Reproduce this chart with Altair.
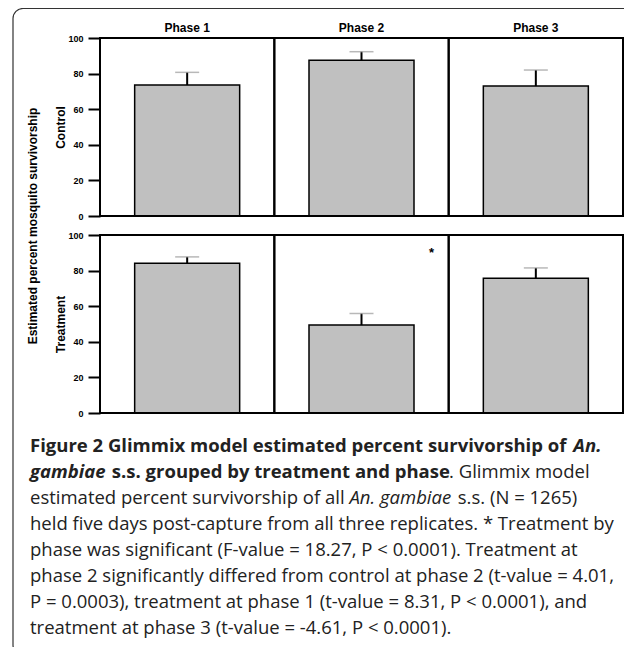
import altair as alt
import pandas as pd

# ---------------- data ----------------
phases = ["Phase 1", "Phase 2", "Phase 3"]
control_mean = [73.6, 87.5, 73.0]
control_upper = [80.7, 92.3, 82.0]
treatment_mean = [84.1, 49.4, 75.7]
treatment_upper = [87.7, 55.9, 81.5]
y_ticks = [0, 20, 40, 60, 80, 100]
sig_phase = ["Phase 2"]
sig_value = [90]
row_titles = ["Control", "Treatment"]
y_title = "Estimated percent mosquito survivorship"

# caption text: one list of (text, weight, style) runs per line
caption_lines = [
    [("Figure 2 Glimmix model estimated percent survivorship of ", "bold", "normal"),
     ("An.", "bold", "italic")],
    [("gambiae", "bold", "italic"),
     (" s.s. grouped by treatment and phase", "bold", "normal"),
     (". Glimmix model", "normal", "normal")],
    [("estimated percent survivorship of all ", "normal", "normal"),
     ("An. gambiae", "normal", "italic"),
     (" s.s. (N = 1265)", "normal", "normal")],
    [("held five days post-capture from all three replicates. * Treatment by", "normal", "normal")],
    [("phase was significant (F-value = 18.27, P < 0.0001). Treatment at", "normal", "normal")],
    [("phase 2 significantly differed from control at phase 2 (t-value = 4.01,", "normal", "normal")],
    [("P = 0.0003), treatment at phase 1 (t-value = 8.31, P < 0.0001), and", "normal", "normal")],
    [("treatment at phase 3 (t-value = -4.61, P < 0.0001).", "normal", "normal")],
]

# ---------------- layout (pixels) ----------------
W = 523
ROW_H = 178
GAP = 19
H = 2 * ROW_H + GAP
ctrl_range = [ROW_H, 0]
trt_range = [H, ROW_H + GAP]
VIEW_X0, VIEW_Y0 = 100, 38
CAP_X0 = 30
CAP_BASE0 = 452
CAP_STEP = 26

AX_FONT = "Liberation Sans"
CAP_FONT = "Open Sans"
CAP_SIZE = 18.5

# approximate Open Sans advance widths (1/2048 em), used only to place
# consecutive runs of differently styled caption text side by side
_REG = {" ": 532, "a": 1139, "b": 1255, "c": 975, "d": 1255, "e": 1149, "f": 694,
        "g": 1122, "h": 1257, "i": 518, "l": 518, "m": 1905, "n": 1257, "o": 1237,
        "p": 1255, "r": 836, "s": 977, "t": 723, "u": 1257, "v": 1026, "x": 1073,
        "y": 1028, ".": 545, "G": 1450}
_BOLD = {" ": 532, "a": 1240, "b": 1300, "c": 1051, "d": 1300, "e": 1240, "f": 797,
         "g": 1141, "h": 1360, "i": 655, "l": 623, "m": 2007, "n": 1339, "o": 1264,
         "p": 1300, "r": 895, "s": 1014, "t": 840, "u": 1339, "v": 1200, "x": 1230,
         "y": 1178, ".": 586, "F": 1180, "G": 1530, "2": 1171}
_ITAL = {" ": 532, "A": 1180, "n": 1220, ".": 500, "g": 1060, "a": 1180, "m": 1820,
         "b": 1200, "i": 537, "e": 1050}
_BOLDITAL = {" ": 532, "A": 1300, "n": 1339, ".": 586, "g": 1141, "a": 1217,
             "m": 1960, "b": 1260, "i": 602, "e": 1130}


def run_width(txt, weight, style):
    table = {("normal", "normal"): _REG, ("bold", "normal"): _BOLD,
             ("normal", "italic"): _ITAL, ("bold", "italic"): _BOLDITAL}[(weight, style)]
    return sum(table.get(ch, 1150) for ch in txt) / 2048 * CAP_SIZE


ctrl = pd.DataFrame({"phase": phases, "mean": control_mean, "upper": control_upper})
trt = pd.DataFrame({"phase": phases, "mean": treatment_mean, "upper": treatment_upper})
cells = pd.DataFrame({"phase": phases, "lo": [y_ticks[0]] * 3, "hi": [y_ticks[-1]] * 3})
sig = pd.DataFrame({"phase": sig_phase, "value": sig_value})

x_enc = alt.X(
    "phase:N",
    sort=phases,
    scale=alt.Scale(domain=phases, paddingInner=0, paddingOuter=0),
    axis=alt.Axis(
        orient="top", title=None, ticks=False, tickSize=0, domain=False, grid=False,
        labelAngle=0, labelFont=AX_FONT, labelFontSize=12, labelFontWeight="bold",
        labelColor="black", labelPadding=4,
    ),
)


def y_axis(title, title_y):
    return alt.Axis(
        orient="left", values=y_ticks, tickSize=12, tickWidth=2, tickColor="black",
        domain=False, grid=False, labelFont=AX_FONT, labelFontSize=9,
        labelFontWeight="bold", labelColor="black", labelPadding=5,
        title=title, titleFont=AX_FONT, titleFontSize=12, titleFontWeight="bold",
        titleColor="black", titleX=-40, titleY=title_y, titleAngle=270,
        titleAlign="center", titleBaseline="middle",
    )


def row_layers(df, rng, title, title_y):
    sc = alt.Scale(domain=[y_ticks[0], y_ticks[-1]], range=rng, nice=False)
    bars = alt.Chart(df).mark_bar(size=105, fill="#c0c0c0", stroke="black", strokeWidth=1.5).encode(
        x=x_enc, y=alt.Y("mean:Q", scale=sc, axis=y_axis(title, title_y))
    )
    err = alt.Chart(df).mark_rule(color="black", strokeWidth=2).encode(
        x=x_enc, y=alt.Y("mean:Q", scale=sc, axis=None), y2="upper:Q"
    )
    cap = alt.Chart(df).mark_tick(size=24, thickness=1.5, color="#9a9a9a").encode(
        x=x_enc, y=alt.Y("upper:Q", scale=sc, axis=None)
    )
    frame = alt.Chart(cells).mark_rect(fillOpacity=0, stroke="black", strokeWidth=2).encode(
        x=x_enc, y=alt.Y("lo:Q", scale=sc, axis=None), y2="hi:Q"
    )
    return [bars, err, cap, frame], sc


ctrl_layers, _ = row_layers(ctrl, ctrl_range, row_titles[0], ROW_H / 2)
trt_layers, trt_sc = row_layers(trt, trt_range, row_titles[1], ROW_H + GAP + ROW_H / 2)

star = alt.Chart(sig).mark_text(
    text="*", dx=70, fontSize=13, fontWeight="bold", font=AX_FONT, color="black", baseline="middle"
).encode(x=x_enc, y=alt.Y("value:Q", scale=trt_sc, axis=None))

blank = alt.Data(values=[{}])
ytitle = alt.Chart(blank).mark_text(
    angle=270, font=AX_FONT, fontSize=12, fontWeight="bold", color="black",
    align="center", baseline="middle",
).encode(x=alt.value(33 - VIEW_X0), y=alt.value(226 - VIEW_Y0), text=alt.value(y_title))

caption = []
for li, runs in enumerate(caption_lines):
    px = CAP_X0
    for txt, weight, style in runs:
        shown = txt.strip()
        lead = txt[: len(txt) - len(txt.lstrip())]
        caption.append(
            alt.Chart(blank).mark_text(
                font=CAP_FONT, fontSize=CAP_SIZE, fontWeight=weight, fontStyle=style,
                color="#222222", align="left", baseline="alphabetic",
            ).encode(
                x=alt.value(px + run_width(lead, weight, style) - VIEW_X0),
                y=alt.value(CAP_BASE0 + li * CAP_STEP - VIEW_Y0),
                text=alt.value(shown),
            )
        )
        px += run_width(txt, weight, style)

outer = alt.Chart(blank).mark_rect(
    fillOpacity=0, stroke="#333333", strokeWidth=1.2, cornerRadius=10
).encode(
    x=alt.value(13 - VIEW_X0), x2=alt.value(636 - VIEW_X0),
    y=alt.value(8.5 - VIEW_Y0), y2=alt.value(655 - VIEW_Y0),
)

chart = alt.layer(
    outer, *ctrl_layers, *trt_layers, star, ytitle, *caption
).resolve_scale(y="independent").properties(
    width=W, height=H,
    autosize=alt.AutoSizeParams(type="none"),
    padding={"left": VIEW_X0 - 8, "top": VIEW_Y0 - 8, "right": 632 - 8 - VIEW_X0 - W, "bottom": 639 - (VIEW_Y0 - 8) - H},
).configure_view(stroke=None)

chart.save("out.html", embed_options={"renderer": "svg", "actions": False})
